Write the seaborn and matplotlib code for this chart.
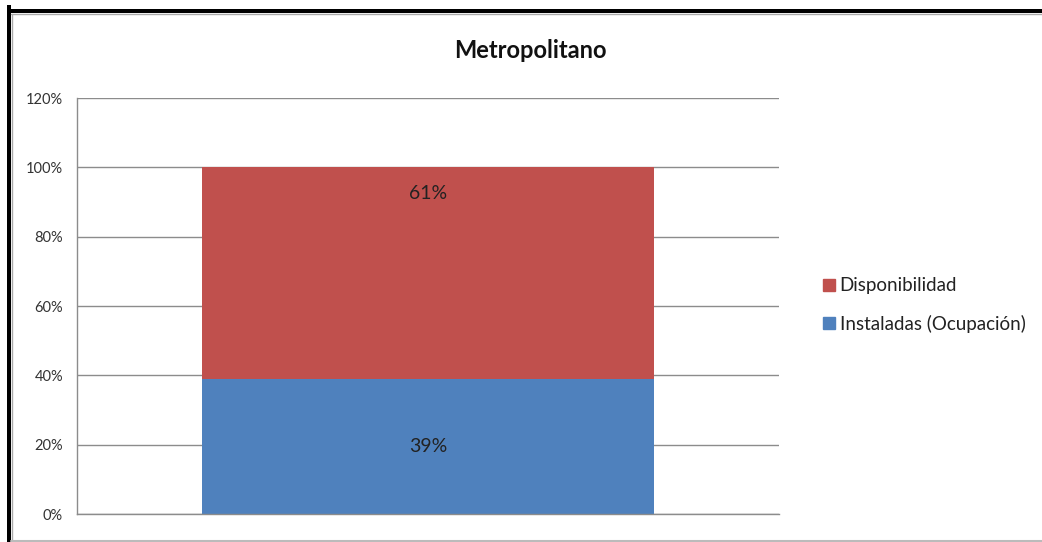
import matplotlib
matplotlib.use("Agg")
import matplotlib.pyplot as plt
import seaborn as sns
import pandas as pd
from matplotlib.patches import Rectangle
from matplotlib.lines import Line2D
from matplotlib.ticker import FuncFormatter, MultipleLocator

categories = ["Metropolitano"]
instaladas = [39]
disponibilidad = [61]
series_names = ["Disponibilidad", "Instaladas (Ocupación)"]
title = "Metropolitano"

red = "#C0504D"
blue = "#4F81BD"

sns.set_theme(style="white")
plt.rcParams["font.family"] = ["Lato", "DejaVu Sans"]

fig = plt.figure(figsize=(10.42, 5.42), dpi=100)
ax = fig.add_axes([77/1042, 1-514/542, (779-77)/1042, (514-98)/542])

df = pd.DataFrame({"cat": categories,
                   "inst": instaladas,
                   "total": [a + b for a, b in zip(instaladas, disponibilidad)]})

sns.barplot(data=df, x="cat", y="total", color=red, width=0.645, ax=ax,
            saturation=1, edgecolor="none")
sns.barplot(data=df, x="cat", y="inst", color=blue, width=0.645, ax=ax,
            saturation=1, edgecolor="none")

ax.set_xlim(-0.5, 0.5)
ax.set_ylim(0, 120)
ax.yaxis.set_major_locator(MultipleLocator(20))
ax.yaxis.set_major_formatter(FuncFormatter(lambda v, p: f"{int(v)}%"))
ax.set_xticks([])
ax.set_xlabel("")
ax.set_ylabel("")
ax.grid(axis="y", color="#8c8c8c", linewidth=1)
ax.set_axisbelow(True)
for s in ["top", "right"]:
    ax.spines[s].set_visible(False)
for s in ["left", "bottom"]:
    ax.spines[s].set_color("#8c8c8c")
    ax.spines[s].set_linewidth(1)
ax.tick_params(axis="y", labelsize=10.5, colors="#333333", length=0, pad=10)

for i, (a, b) in enumerate(zip(instaladas, disponibilidad)):
    ax.text(i, a / 2, f"{a}%", ha="center", va="center", fontsize=14, color="#222222")
    ax.text(i, a + b - 7.5, f"{b}%", ha="center", va="center", fontsize=14, color="#222222")

fig.text(530/1042, 1-50/542, title, ha="center", va="center",
         fontsize=17, fontweight="bold", color="#111111")

handles = [Line2D([], [], marker="s", linestyle="none", markersize=8,
                  markerfacecolor=c, markeredgecolor=c) for c in (red, blue)]
fig.legend(handles, series_names, loc="center left",
           bbox_to_anchor=(803/1042, 1-305/542), frameon=False,
           fontsize=13.5, handletextpad=0.05, handlelength=1.0,
           labelspacing=1.1, labelcolor="#222222")

# chart frame
fig.patches.append(Rectangle((7/1042, -0.01), 4/1042, 1.0, transform=fig.transFigure,
                             facecolor="black", edgecolor="none", zorder=0))
fig.patches.append(Rectangle((7/1042, 1-13/542), 1.0, 4/542, transform=fig.transFigure,
                             facecolor="black", edgecolor="none", zorder=0))
fig.lines.append(Line2D([11/1042, 1], [1-14/542, 1-14/542], transform=fig.transFigure,
                        color="#aaaaaa", linewidth=1))
fig.lines.append(Line2D([12/1042, 12/1042], [0, 1-14/542], transform=fig.transFigure,
                        color="#aaaaaa", linewidth=1))
fig.lines.append(Line2D([11/1042, 1], [1-541/542, 1-541/542], transform=fig.transFigure,
                        color="#bbbbbb", linewidth=1.5))

fig.savefig("out.png", dpi=100, facecolor="white")
